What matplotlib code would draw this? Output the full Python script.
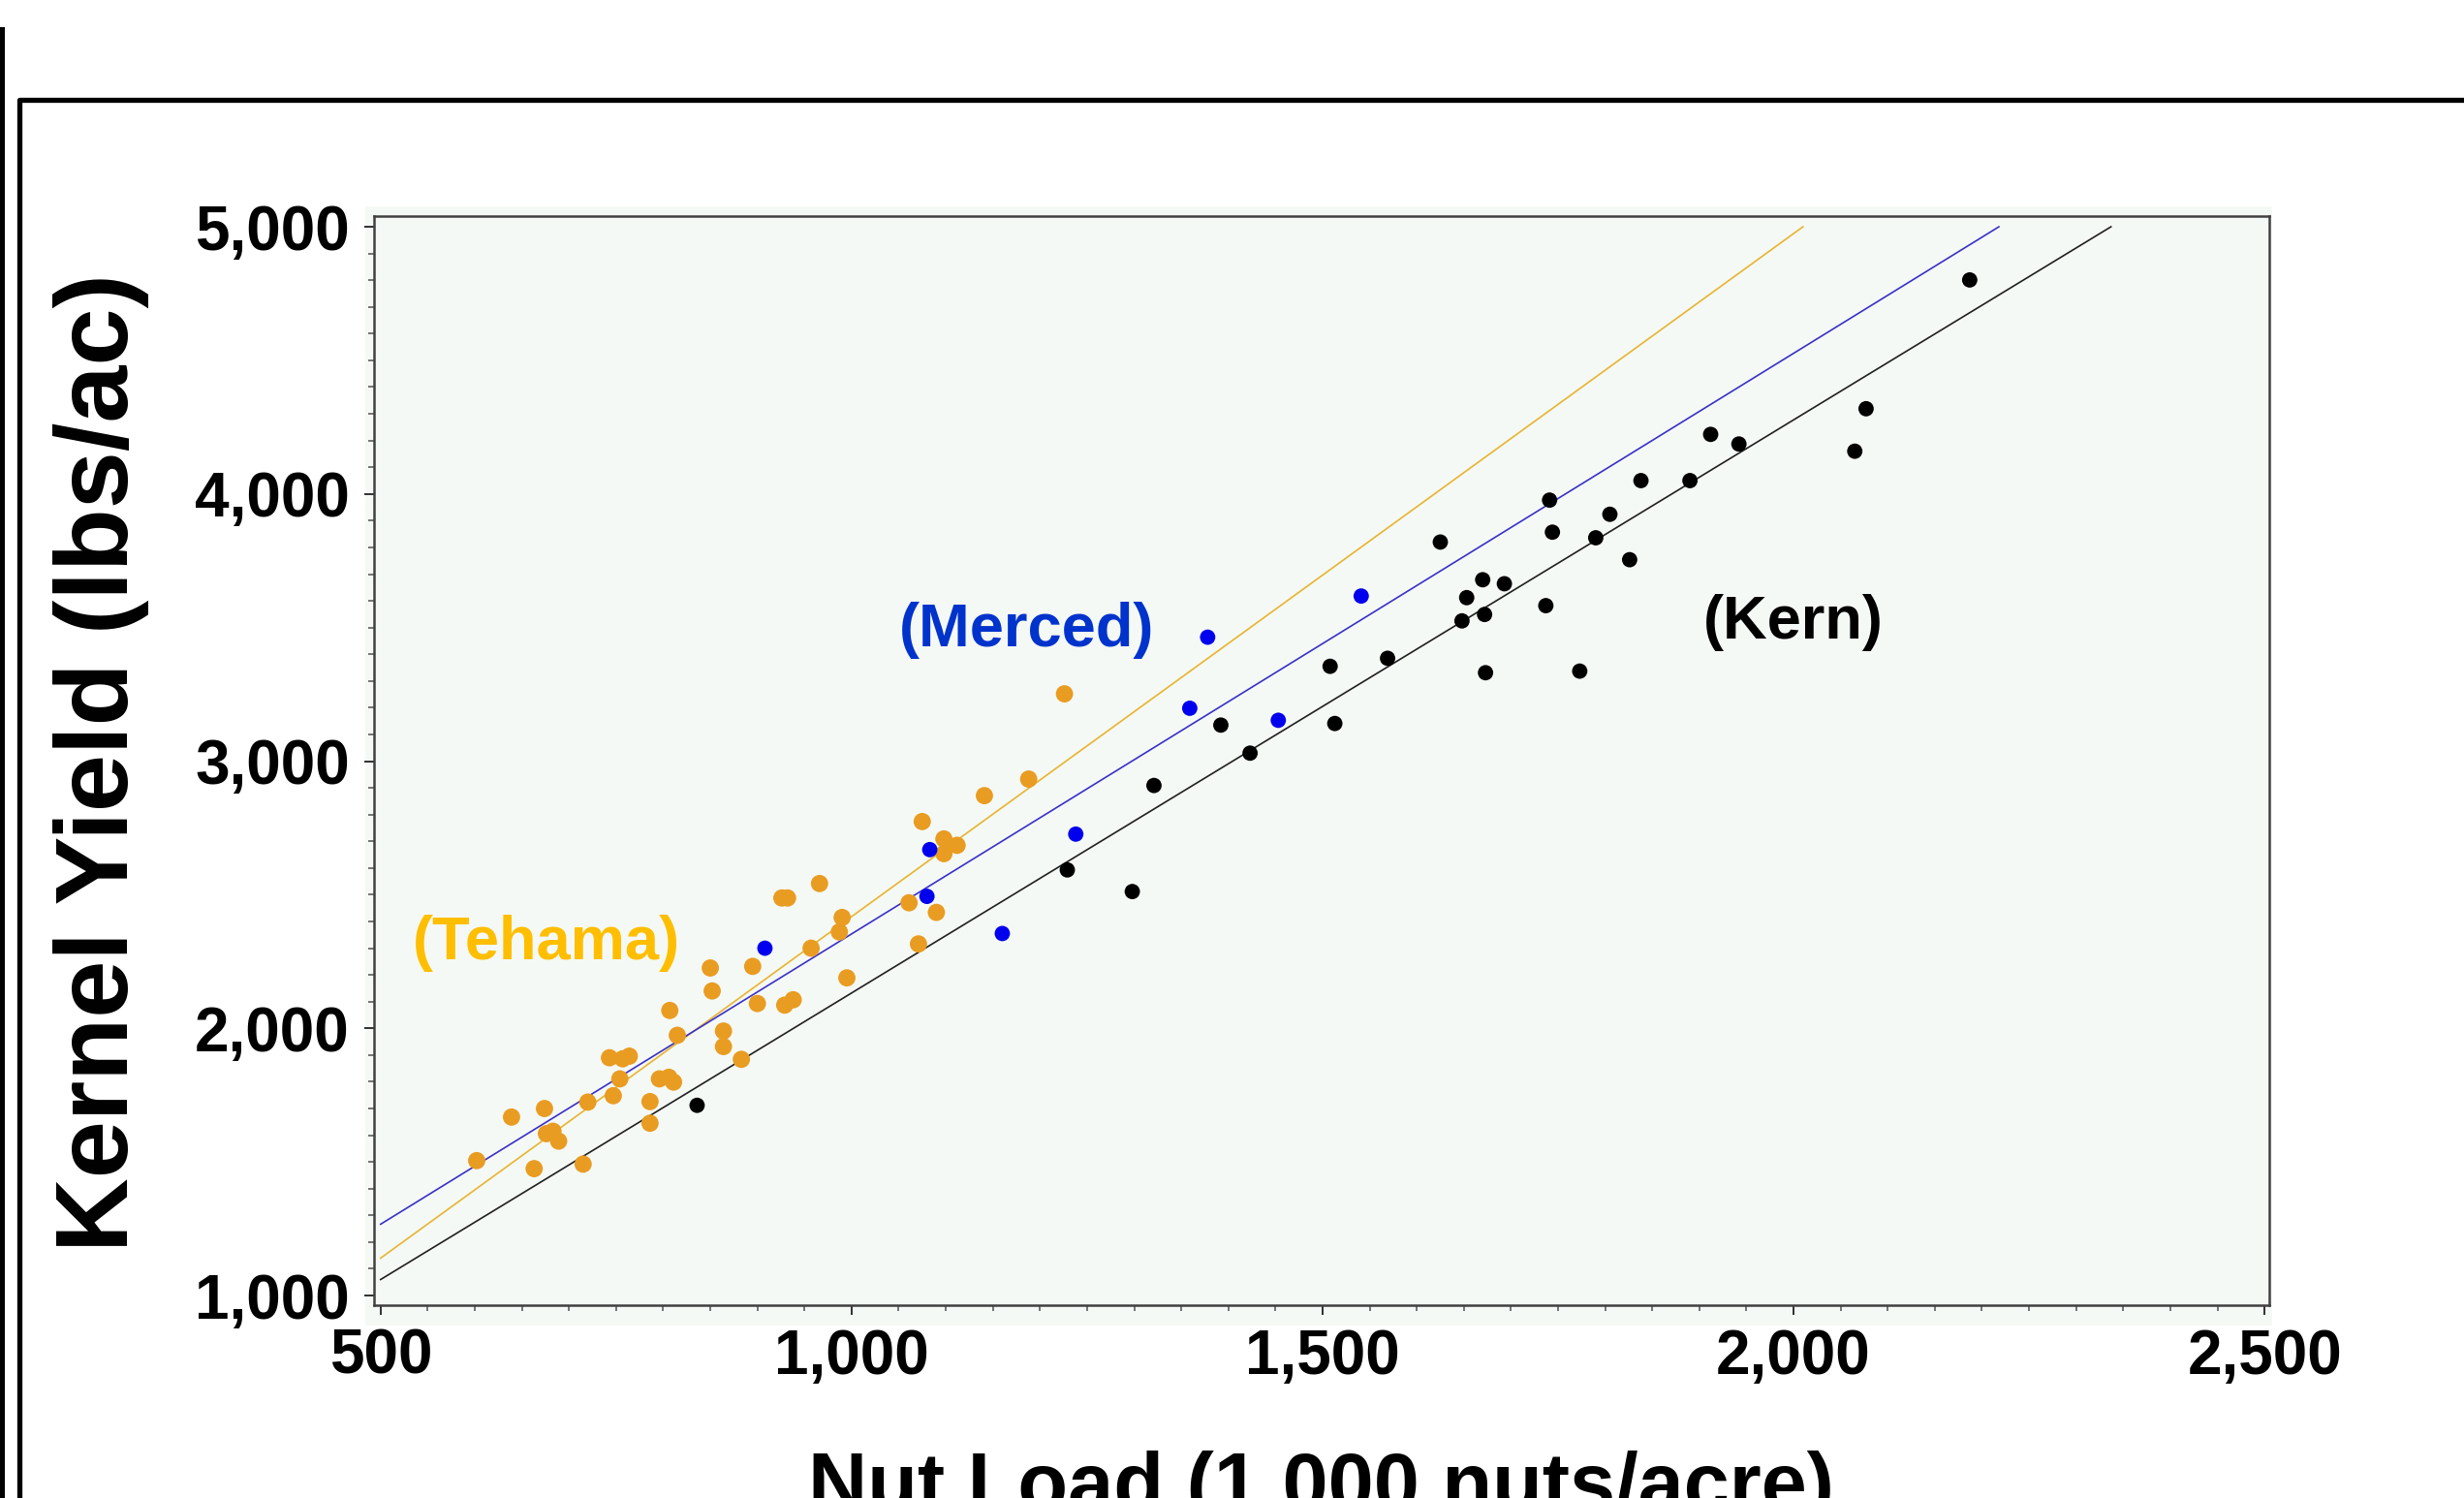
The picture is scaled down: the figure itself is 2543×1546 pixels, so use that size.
import matplotlib
matplotlib.use("Agg")
import matplotlib.pyplot as plt
from matplotlib.ticker import MultipleLocator, FuncFormatter
from matplotlib.patches import Rectangle
from matplotlib.lines import Line2D

plt.rcParams['font.family'] = ['Liberation Sans', 'DejaVu Sans']
plt.rcParams['font.weight'] = 'bold'

# Kern (black)
kern_x = [836, 1229, 1298, 1321, 1392, 1423, 1508, 1513, 1569, 1625, 1648, 1653, 1670, 1672, 1673,
          1693, 1737, 1741, 1744, 1773, 1790, 1805, 1826, 1838, 1890, 1912, 1942, 2065, 2077, 2187]
kern_y = [1712, 2593, 2512, 2909, 3135, 3030, 3355, 3141, 3385, 3820, 3525, 3612, 3679, 3549, 3331,
          3664, 3582, 3977, 3857, 3337, 3836, 3924, 3754, 4050, 4050, 4223, 4187, 4160, 4319, 4801]

# Merced (blue)
merced_x = [908, 1080, 1083, 1160, 1238, 1359, 1378, 1453, 1541]
merced_y = [2300, 2494, 2669, 2355, 2727, 3198, 3464, 3153, 3618]

# Tehama (orange)
tehama_x = [602, 663, 639, 674, 676, 683, 689, 715, 720, 747, 754, 743, 757, 764, 786, 786,
            796, 806, 811, 815, 807, 850, 852, 864, 864, 883, 895, 900, 929, 938, 926, 932,
            966, 957, 995, 990, 987, 1061, 1071, 1090, 1075, 1098, 1112, 1098, 1141, 1188, 1226]
tehama_y = [1505, 1475, 1668, 1700, 1606, 1615, 1578, 1492, 1724, 1748, 1811, 1890, 1886, 1896, 1726, 1645,
            1811, 1817, 1799, 1974, 2067, 2226, 2140, 1990, 1932, 1884, 2232, 2093, 2087, 2107, 2488, 2488,
            2542, 2300, 2189, 2415, 2361, 2470, 2316, 2434, 2774, 2709, 2685, 2654, 2871, 2933, 3252]

# fitted lines, read as end points
kern_fit_x, kern_fit_y = [500, 2337], [1060, 5000]
merced_fit_x, merced_fit_y = [500, 2218], [1267, 5000]
tehama_fit_x, tehama_fit_y = [500, 2010], [1140, 5000]

x_ticks = [500, 1000, 1500, 2000, 2500]
y_ticks = [1000, 2000, 3000, 4000, 5000]

W, H = 2543, 1546
fig = plt.figure(figsize=(W / 100, H / 100), dpi=100)

# light panel behind the axes
fig.patches.append(Rectangle((377 / W, 1 - 1368 / H), (2345 - 377) / W, (1368 - 213) / H,
                             transform=fig.transFigure, facecolor='#f5f9f5', edgecolor='none', zorder=0))

# slide frame lines
fig.lines.append(Line2D([1.5 / W, 1.5 / W], [0, 1 - 30 / H], transform=fig.transFigure,
                        color='black', lw=3.6))
fig.lines.append(Line2D([20 / W, 20 / W, 1], [0, 1 - 102.5 / H, 1 - 102.5 / H], transform=fig.transFigure,
                        color='black', lw=3.8, solid_joinstyle='round'))

ax = fig.add_axes([386 / W, 1 - 1347 / H, (2342 - 386) / W, (1347 - 223) / H])
ax.set_facecolor('#f5f9f5')
ax.set_zorder(2)

ax.plot(tehama_fit_x, tehama_fit_y, color='#e8b430', lw=1.2, zorder=2)
ax.plot(merced_fit_x, merced_fit_y, color='#3a30c8', lw=1.2, zorder=2)
ax.plot(kern_fit_x, kern_fit_y, color='#202020', lw=1.2, zorder=2)

ax.scatter(tehama_x, tehama_y, s=165, color='#e99c22', edgecolors='none', zorder=3)
ax.scatter(merced_x, merced_y, s=130, color='#0000ee', edgecolors='none', zorder=3)
ax.scatter(kern_x, kern_y, s=130, color='black', edgecolors='none', zorder=3)

ax.text(1186, 3430, '(Merced)', color='#0033cc', fontsize=45.5, fontweight='bold', ha='center', va='baseline')
ax.text(2000, 3459, '(Kern)', color='black', fontsize=45.5, fontweight='bold', ha='center', va='baseline')
ax.text(676, 2258, '(Tehama)', color='#ffbe00', fontsize=45.5, fontweight='bold', ha='center', va='baseline')

ax.set_xlim(493, 2505)
ax.set_ylim(964, 5040)
ax.set_xticks(x_ticks)
ax.set_yticks(y_ticks)
ax.xaxis.set_minor_locator(MultipleLocator(50))
ax.yaxis.set_minor_locator(MultipleLocator(100))
fmt = FuncFormatter(lambda v, p: f'{int(v):,}')
ax.xaxis.set_major_formatter(fmt)
ax.yaxis.set_major_formatter(fmt)

ax.tick_params(which='major', direction='out', length=7, width=1.4, color='#303030',
               labelsize=46, pad=10)
ax.tick_params(which='minor', direction='out', length=4, width=1.1, color='#505050')
ax.tick_params(axis='y', which='major', pad=11)
for lab in ax.get_xticklabels() + ax.get_yticklabels():
    lab.set_fontweight('bold')
for sp in ax.spines.values():
    sp.set_color('#404040')
    sp.set_linewidth(1.8)

fig.text(105 / W, 1 - 787 / H, 'Kernel Yield (lbs/ac)', rotation=90, fontsize=76.5,
         fontweight='bold', ha='center', va='center')
# x label runs off the bottom edge, as in the source slide
fig.text(1363 / W, 1 - 1559 / H, 'Nut Load (1,000 nuts/acre)', fontsize=61,
         fontweight='bold', ha='center', va='baseline')

fig.savefig('out.png', dpi=100, facecolor='white')
